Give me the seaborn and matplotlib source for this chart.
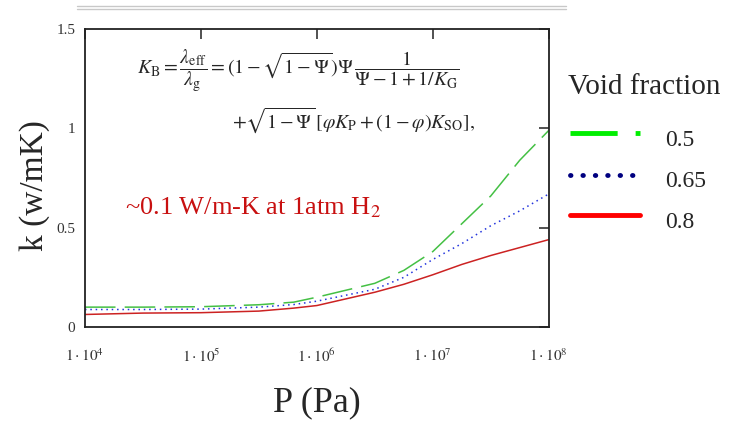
import numpy as np
import pandas as pd
import matplotlib
matplotlib.use("Agg")
import matplotlib.pyplot as plt
from matplotlib.lines import Line2D
import seaborn as sns

# pressure points (Pa) and conductivity k (W/mK) per void fraction
pressure = [1e4, 10**4.5, 1e5, 10**5.5, 10**5.8, 1e6, 10**6.5, 10**6.75,
            1e7, 10**7.25, 10**7.5, 10**7.75, 1e8]
k_05 = [0.100, 0.100, 0.102, 0.112, 0.125, 0.150, 0.220, 0.285,
        0.380, 0.520, 0.660, 0.840, 0.990]
k_065 = [0.088, 0.088, 0.090, 0.100, 0.113, 0.130, 0.190, 0.250,
         0.340, 0.420, 0.510, 0.585, 0.670]
k_08 = [0.063, 0.070, 0.072, 0.080, 0.095, 0.108, 0.175, 0.215,
        0.263, 0.315, 0.360, 0.400, 0.440]
fractions = ["0.5", "0.65", "0.8"]
x_ticks = [1e4, 1e5, 1e6, 1e7, 1e8]
x_labels = [r"$1\cdot10^{4}$", r"$1\cdot10^{5}$", r"$1\cdot10^{6}$",
            r"$1\cdot10^{7}$", r"$1\cdot10^{8}$"]
y_ticks = [0, 0.5, 1, 1.5]
y_labels = ["0", "0.5", "1", "1.5"]

sns.set_style("white")
plt.rcParams["font.family"] = ["Liberation Serif", "DejaVu Serif"]
plt.rcParams["mathtext.fontset"] = "stix"

data = pd.DataFrame({
    "P": pressure * 3,
    "k": k_05 + k_065 + k_08,
    "Void fraction": [f for f in fractions for _ in pressure],
})

plot_colors = {"0.5": "#44c044", "0.65": "#2233dd", "0.8": "#cc2222"}
dashes = {"0.5": (20, 6), "0.65": (1, 2.5), "0.8": ""}

fig = plt.figure(figsize=(7.35, 4.23), dpi=100)
ax = fig.add_axes([0.1156, 0.227, 0.631, 0.704])

sns.lineplot(data=data, x="P", y="k", hue="Void fraction", style="Void fraction",
             palette=plot_colors, dashes=dashes, linewidth=1.1, ax=ax, legend=False)

ax.set_xscale("log")
ax.set_xlim(1e4, 1e8)
ax.set_ylim(0, 1.5)
ax.set_xticks(x_ticks)
ax.set_xticklabels(x_labels, fontsize=11, color="#333333")
ax.minorticks_off()
ax.set_yticks(y_ticks)
ax.set_yticklabels(y_labels, fontsize=11, color="#333333")
ax.tick_params(axis="both", direction="in", length=7, width=1.2, color="#333333",
               top=True, right=True)
ax.tick_params(axis="x", pad=15)
ax.tick_params(axis="y", pad=7)
for s in ax.spines.values():
    s.set_color("#222222")
    s.set_linewidth(1.3)

ax.set_xlabel("P (Pa)", fontsize=26)
ax.xaxis.set_label_coords(0.5, -0.2)
ax.set_ylabel("k (w/mK)", fontsize=24)
ax.yaxis.set_label_coords(-0.075, 0.476)

# equation
ax.text(0.112, 0.862,
        r"$K_{\rm B}=\dfrac{\lambda_{\rm eff}}{\lambda_{\rm g}}=(1-\sqrt{1-\Psi})\Psi\,\dfrac{1}{\Psi-1+1/K_{\rm G}}$",
        transform=ax.transAxes, fontsize=14.3, va="center", ha="left")
ax.text(0.317, 0.695,
        r"$+\sqrt{1-\Psi}\,[\varphi K_{\rm P}+(1-\varphi)K_{\rm SO}],$",
        transform=ax.transAxes, fontsize=14.3, va="center", ha="left")

ax.text(0.086, 0.40, r"~0.1 W/m-K at 1atm H$_2$", transform=ax.transAxes,
        fontsize=19, color="#c81010", va="center", ha="left")

# top double rule
fig.add_artist(Line2D([0.105, 0.77], [0.985, 0.985], color="#c8c8c8", lw=1))
fig.add_artist(Line2D([0.105, 0.77], [0.979, 0.979], color="#c8c8c8", lw=1))

# legend drawn beside the axes
fig.text(0.773, 0.795, "Void fraction", fontsize=21, va="center", ha="left")
handle_styles = [
    dict(color="#00ee00", dashes=(9.7, 3.7, 1.0, 10)),
    dict(color="#000080", linestyle=(0, (0.1, 2.45)), dash_capstyle="round"),
    dict(color="#ff0000"),
]
handle_y = [0.686, 0.586, 0.492]
label_y = [0.669, 0.570, 0.475]
for style, hy, ly, lab in zip(handle_styles, handle_y, label_y, fractions):
    fig.add_artist(Line2D([0.776, 0.871], [hy, hy], lw=3.5, **style))
    fig.text(0.905, ly, lab, fontsize=17, va="center", ha="left")

fig.savefig("out.png", dpi=100)
